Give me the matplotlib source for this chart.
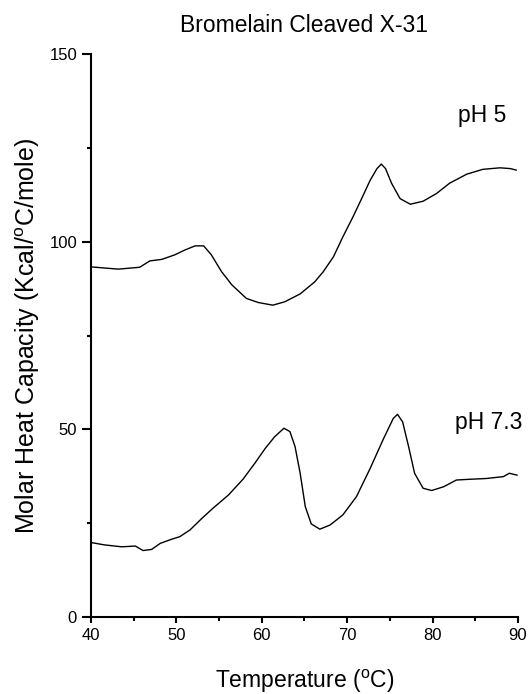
import matplotlib
matplotlib.use("Agg")
import matplotlib.pyplot as plt
from matplotlib.ticker import MultipleLocator

plt.rcParams['font.family'] = ['Liberation Sans', 'DejaVu Sans']
plt.rcParams['mathtext.fontset'] = 'custom'
plt.rcParams['mathtext.rm'] = 'Liberation Sans'

# pH 5 scan
t_ph5 = [40.0, 43.2, 45.7, 46.9, 48.3, 49.8, 51.0, 52.2, 53.2, 54.1, 55.3, 56.5,
         58.2, 59.6, 61.3, 62.7, 64.5, 66.2, 67.2, 68.4, 69.5, 70.7, 71.7, 72.7,
         73.5, 74.0, 74.5, 75.2, 76.2, 77.4, 78.9, 80.5, 82.0, 84.0, 85.9, 87.9,
         89.1, 89.8]
cp_ph5 = [93.3, 92.7, 93.2, 94.9, 95.3, 96.5, 97.8, 98.9, 98.9, 96.5, 92.0, 88.5,
          84.9, 83.8, 83.1, 84.0, 86.1, 89.3, 92.0, 96.0, 101.3, 106.7, 111.5, 116.4,
          119.5, 120.7, 119.5, 115.6, 111.5, 110.0, 110.8, 112.9, 115.6, 118.0, 119.3, 119.7,
          119.5, 119.1]

# pH 7.3 scan
t_ph73 = [40.1, 41.6, 43.6, 45.2, 45.5, 46.1, 47.1, 48.1, 49.3, 50.4, 51.6, 53.0,
          54.3, 56.1, 57.8, 59.2, 60.4, 61.5, 62.6, 63.3, 63.9, 64.5, 65.1, 65.8,
          66.8, 68.0, 69.5, 71.1, 72.7, 74.2, 75.4, 75.9, 76.5, 77.2, 77.9, 78.9,
          79.9, 81.3, 82.8, 84.4, 86.3, 88.3, 89.0, 89.9]
cp_ph73 = [19.8, 19.2, 18.7, 18.9, 18.5, 17.7, 18.0, 19.6, 20.6, 21.4, 23.2, 26.3,
           29.0, 32.5, 36.7, 41.0, 44.9, 48.0, 50.3, 49.4, 45.4, 38.3, 29.4, 24.8,
           23.4, 24.5, 27.2, 32.1, 39.6, 47.2, 52.9, 54.0, 52.0, 45.4, 38.3, 34.3,
           33.7, 34.7, 36.5, 36.7, 36.9, 37.4, 38.3, 37.8]

fig = plt.figure(figsize=(5.29, 6.94), dpi=100)
ax = fig.add_axes([0.172, 0.111, 0.807, 0.811])

ax.plot(t_ph5, cp_ph5, color='black', lw=1.0)
ax.plot(t_ph73, cp_ph73, color='black', lw=1.0)

ax.text(83.0, 133.7, 'pH 5', fontsize=16.5, va='center')
ax.text(82.6, 51.7, 'pH 7.3', fontsize=16.5, va='center')

ax.set_xlim(40, 90)
ax.set_ylim(0, 150)
ax.xaxis.set_major_locator(MultipleLocator(10))
ax.xaxis.set_minor_locator(MultipleLocator(5))
ax.yaxis.set_major_locator(MultipleLocator(50))
ax.yaxis.set_minor_locator(MultipleLocator(25))

for s in ['top', 'right']:
    ax.spines[s].set_visible(False)
for s in ['left', 'bottom']:
    ax.spines[s].set_linewidth(1.5)
ax.tick_params(which='major', direction='out', width=1.5, labelsize=12)
ax.tick_params(axis='y', which='major', length=6.5)
ax.tick_params(axis='x', which='major', length=4.5)
ax.tick_params(which='minor', direction='out', length=3.2, width=1.5)

ax.set_xlabel(r'Temperature ($\mathregular{^o}$C)', fontsize=16.5, labelpad=18)
ax.set_ylabel(r'Molar Heat Capacity (Kcal/$\mathregular{^o}$C/mole)', fontsize=18, labelpad=5)
ax.set_title('Bromelain Cleaved X-31', fontsize=16.5, pad=16)

fig.savefig('out.png', dpi=100)
